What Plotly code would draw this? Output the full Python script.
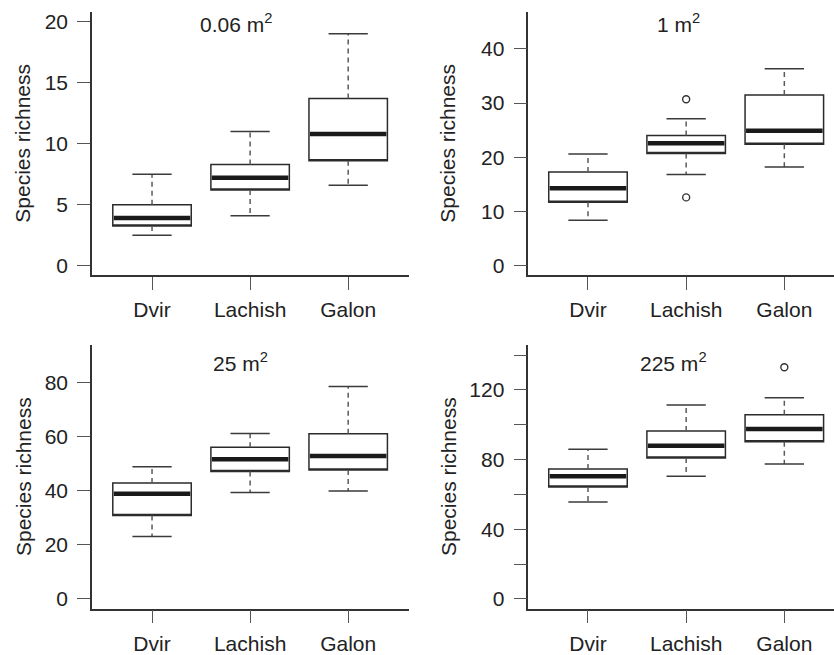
import plotly.graph_objects as go

# ---------------- data ----------------
categories = ["Dvir", "Lachish", "Galon"]
panel_titles = ["0.06 m<sup>2</sup>", "1 m<sup>2</sup>", "25 m<sup>2</sup>", "225 m<sup>2</sup>"]

# 0.06 m2
low_a = [2.5, 4.1, 6.6]
q1_a = [3.25, 6.2, 8.6]
med_a = [3.9, 7.2, 10.8]
q3_a = [5.0, 8.3, 13.7]
high_a = [7.5, 11.0, 19.0]
out_x_a = []
out_y_a = []

# 1 m2
low_b = [8.4, 16.8, 18.2]
q1_b = [11.7, 20.7, 22.4]
med_b = [14.3, 22.6, 24.9]
q3_b = [17.3, 24.0, 31.5]
high_b = [20.6, 27.1, 36.3]
out_x_b = ["Lachish", "Lachish"]
out_y_b = [12.6, 30.7]

# 25 m2
low_c = [23.0, 39.3, 39.8]
q1_c = [30.8, 47.0, 47.6]
med_c = [38.8, 51.6, 52.8]
q3_c = [42.8, 56.0, 61.0]
high_c = [48.8, 61.1, 78.4]
out_x_c = []
out_y_c = []

# 225 m2
low_d = [55.7, 70.5, 77.5]
q1_d = [64.3, 80.9, 90.3]
med_d = [70.5, 88.0, 97.5]
q3_d = [74.6, 96.4, 105.8]
high_d = [86.0, 111.3, 115.5]
out_x_d = ["Galon"]
out_y_d = [133.0]

# y axis ticks per panel (labelled ticks, and extra unlabelled ticks)
yticks_a = [0, 5, 10, 15, 20]
yticks_b = [0, 10, 20, 30, 40]
yticks_c = [0, 20, 40, 60, 80]
yticks_d = [0, 40, 80, 120]
yminor_d = [20, 60, 100, 140]
ylims = [(0, 20), (0, 45), (0, 90), (0, 140)]

# ---------------- styling ----------------
W, H = 834, 655
FONT = "Liberation Sans, Arial, Helvetica, sans-serif"
TXT = "#222222"
AXC = "#333333"
BOXC = "#2b2b2b"
WHC = "#5a5a5a"
BOXW = 0.8
CAPW = 0.4

pos = [i + 1 for i in range(len(categories))]
cat_pos = {c: p for c, p in zip(categories, pos)}

panels = [
    (low_a, q1_a, med_a, q3_a, high_a, out_x_a, out_y_a),
    (low_b, q1_b, med_b, q3_b, high_b, out_x_b, out_y_b),
    (low_c, q1_c, med_c, q3_c, high_c, out_x_c, out_y_c),
    (low_d, q1_d, med_d, q3_d, high_d, out_x_d, out_y_d),
]
ytick_sets = [(yticks_a, None), (yticks_b, None), (yticks_c, None), (yticks_d, yminor_d)]

# pixel layout of the four plotting regions: (left, right, top, bottom)
regions = [
    (92, 409, 10, 276),
    (528.3, 834, 10, 276),
    (92, 409, 346.5, 612.3),
    (528.3, 834, 346.5, 612.3),
]
xranges = [(0.388, 3.62), (0.392, 3.506), (0.388, 3.62), (0.392, 3.506)]
title_px = [(236, 21), (678, 21), (240, 363), (673, 363)]
ytitle_x = [23, 448, 23, 448]

fig = go.Figure()
layout = dict(width=W, height=H, margin=dict(l=0, r=0, t=0, b=0),
              paper_bgcolor="white", plot_bgcolor="white", showlegend=False,
              font=dict(family=FONT, size=21, color=TXT))
annotations = []

for k, (low, q1, med, q3, high, ox, oy) in enumerate(panels):
    n = k + 1
    xa = "x" if n == 1 else f"x{n}"
    ya = "y" if n == 1 else f"y{n}"
    # box rectangles
    fig.add_trace(go.Box(x=pos, q1=q1, median=q1, q3=q3, lowerfence=q1, upperfence=q3,
                         width=BOXW, whiskerwidth=0, fillcolor="white",
                         line=dict(color=BOXC, width=1.5), boxpoints=False,
                         hoverinfo="skip", xaxis=xa, yaxis=ya))
    # dashed whiskers
    wx, wy = [], []
    for p, lo, a, b, hi in zip(pos, low, q1, q3, high):
        wx += [p, p, None, p, p, None]
        wy += [a, lo, None, b, hi, None]
    fig.add_trace(go.Scatter(x=wx, y=wy, mode="lines", hoverinfo="skip",
                             line=dict(color=WHC, width=1.5, dash="5px,4px"),
                             xaxis=xa, yaxis=ya))
    # caps
    cx, cy = [], []
    for p, lo, hi in zip(pos, low, high):
        cx += [p - CAPW / 2, p + CAPW / 2, None, p - CAPW / 2, p + CAPW / 2, None]
        cy += [lo, lo, None, hi, hi, None]
    fig.add_trace(go.Scatter(x=cx, y=cy, mode="lines", hoverinfo="skip",
                             line=dict(color="#3a3a3a", width=1.5),
                             xaxis=xa, yaxis=ya))
    # medians
    mx, my = [], []
    for p, m in zip(pos, med):
        mx += [p - BOXW / 2 + 0.01, p + BOXW / 2 - 0.01, None]
        my += [m, m, None]
    fig.add_trace(go.Scatter(x=mx, y=my, mode="lines", hoverinfo="skip",
                             line=dict(color="#1a1a1a", width=4.5),
                             xaxis=xa, yaxis=ya))
    # outliers
    if ox:
        fig.add_trace(go.Scatter(x=[cat_pos[c] for c in ox], y=oy, mode="markers",
                                 hoverinfo="skip",
                                 marker=dict(symbol="circle-open", size=7,
                                             color="#333333", line=dict(width=1.4)),
                                 xaxis=xa, yaxis=ya))

    left, right, top, bottom = regions[k]
    lo_y, hi_y = ylims[k]
    ext = 0.04 * (hi_y - lo_y)
    tv, minor_tv = ytick_sets[k]
    axis_common = dict(showline=True, linecolor=AXC, linewidth=1.5, ticks="outside",
                       ticklen=13, tickwidth=1.3, tickcolor="#555555", showgrid=False,
                       zeroline=False, mirror=False, fixedrange=True,
                       tickfont=dict(family=FONT, size=21, color=TXT))
    layout["xaxis" if n == 1 else f"xaxis{n}"] = dict(
        axis_common, domain=[left / W, right / W], range=list(xranges[k]),
        tickvals=pos, ticktext=categories, anchor=ya, ticklabelstandoff=2)
    yax = dict(axis_common, domain=[(H - bottom) / H, (H - top) / H],
               range=[lo_y - ext, hi_y + ext], tickvals=tv,
               ticktext=[str(v) for v in tv], anchor=xa, ticklabelstandoff=5)
    if minor_tv:
        yax["minor"] = dict(tickmode="array", tickvals=minor_tv, ticks="outside",
                            ticklen=13, tickwidth=1.3, tickcolor="#555555", showgrid=False)
    layout["yaxis" if n == 1 else f"yaxis{n}"] = yax

    tx, ty = title_px[k]
    annotations.append(dict(text=panel_titles[k], x=tx / W, y=(H - ty) / H,
                            xref="paper", yref="paper", xanchor="center", yanchor="middle",
                            showarrow=False, font=dict(family=FONT, size=21, color=TXT)))
    annotations.append(dict(text="Species richness", x=ytitle_x[k] / W,
                            y=(H - (top + bottom) / 2) / H, xref="paper", yref="paper",
                            xanchor="center", yanchor="middle", textangle=-90,
                            showarrow=False, font=dict(family=FONT, size=21, color=TXT)))

layout["annotations"] = annotations
fig.update_layout(**layout)
fig.write_html("out.html", config={"displayModeBar": False})
